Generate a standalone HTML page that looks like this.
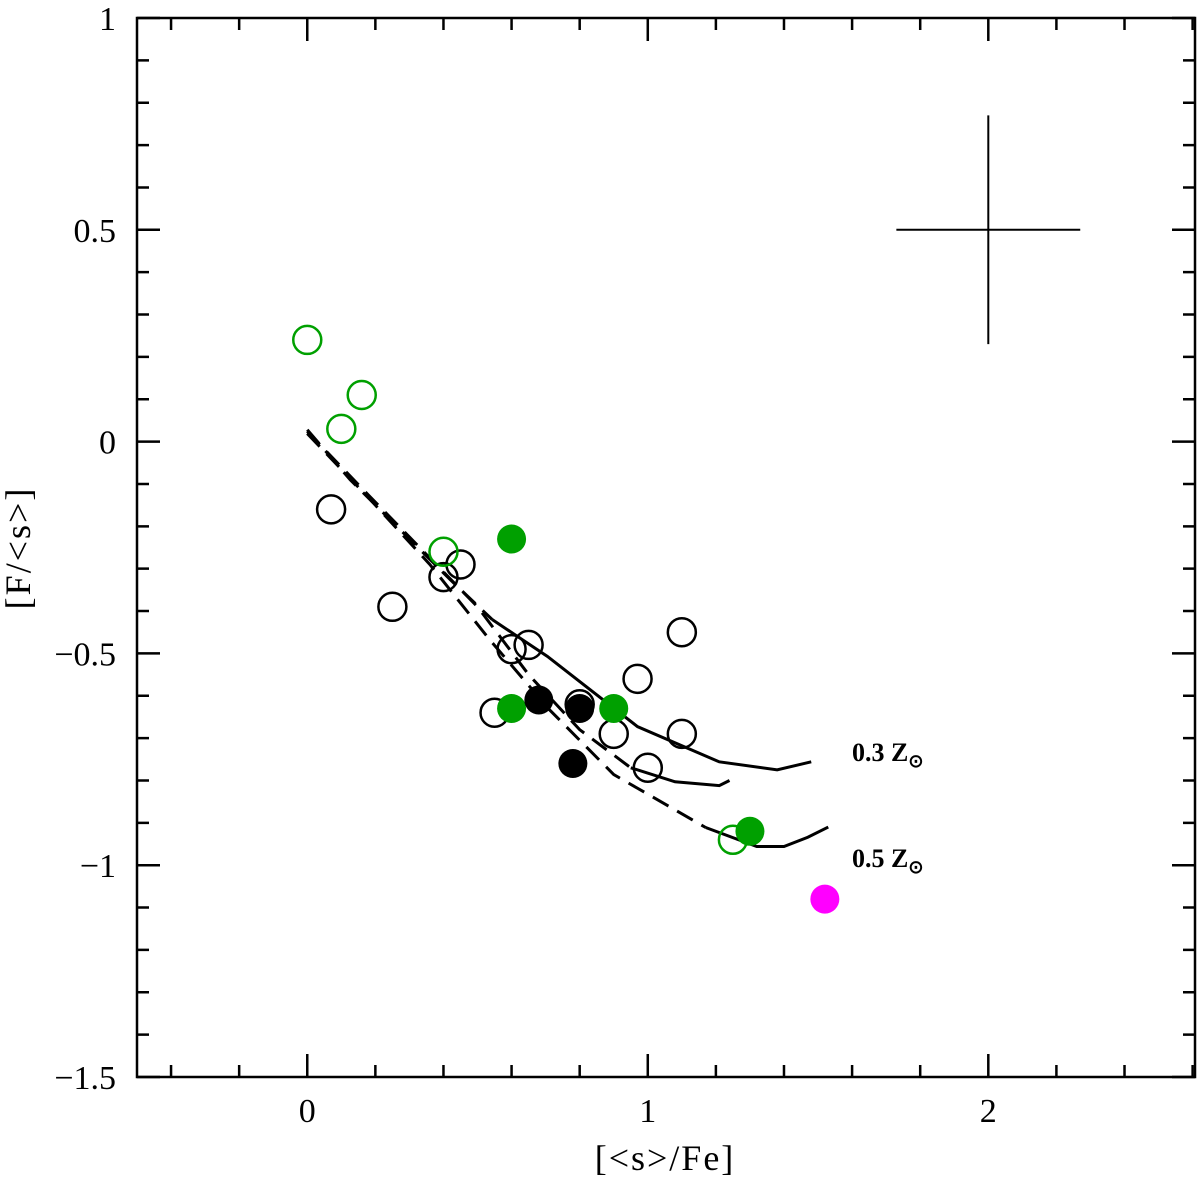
<!DOCTYPE html>
<html><head><meta charset="utf-8"><style>
body{margin:0;background:#fff}
svg text{font-family:"Liberation Serif",serif;fill:#000}
</style></head><body>
<svg id="chart" width="1200" height="1185" viewBox="0 0 1200 1185" xmlns="http://www.w3.org/2000/svg">
<g id="axes"></g>
<g id="models"></g>
<g id="points"></g>
<text x="665" y="1170" font-size="36" text-anchor="middle" letter-spacing="2">[&lt;s&gt;/Fe]</text>
<text transform="translate(30,548) rotate(-90)" font-size="36" text-anchor="middle" letter-spacing="2">[F/&lt;s&gt;]</text>
<text x="852" y="761" font-size="26" font-weight="bold">0.3 Z<tspan font-size="18" dy="6">⊙</tspan></text>
<text x="852" y="867" font-size="26" font-weight="bold">0.5 Z<tspan font-size="18" dy="6">⊙</tspan></text>
</svg>
<script>
const xTicks=[0,1,2];
const yTicks=[1,0.5,0,-0.5,-1,-1.5];
const yTickLabels=["1","0.5","0","\u22120.5","\u22121","\u22121.5"];
const openBlackX=[0.07,0.25,0.40,0.45,0.55,0.60,0.65,0.80,0.90,0.97,1.00,1.10,1.10];
const openBlackY=[-0.16,-0.39,-0.32,-0.29,-0.64,-0.49,-0.48,-0.62,-0.69,-0.56,-0.77,-0.45,-0.69];
const openGreenX=[0,0.16,0.10,0.40,1.25];
const openGreenY=[0.24,0.11,0.03,-0.26,-0.94];
const fillGreenX=[0.60,0.60,0.90,1.30];
const fillGreenY=[-0.23,-0.63,-0.63,-0.92];
const fillBlackX=[0.68,0.80,0.78];
const fillBlackY=[-0.61,-0.63,-0.76];
const magentaX=[1.52];
const magentaY=[-1.08];
const upDashX=[0,0.126,0.273,0.42,0.543];
const upDashY=[0.028,-0.09,-0.208,-0.326,-0.42];
const upSolidX=[0.543,0.705,0.97,1.21,1.38,1.48];
const upSolidY=[-0.42,-0.507,-0.673,-0.756,-0.775,-0.756];
const midDashX=[0,0.16,0.33,0.5,0.65,0.8,0.95];
const midDashY=[0.024,-0.11,-0.25,-0.39,-0.55,-0.68,-0.77];
const midSolidX=[0.95,1.08,1.21,1.24];
const midSolidY=[-0.77,-0.803,-0.812,-0.80];
const lowDashX=[0,0.185,0.36,0.535,0.71,0.9,1.17];
const lowDashY=[0.019,-0.137,-0.29,-0.467,-0.632,-0.786,-0.911];
const lowSolidX=[1.17,1.32,1.4,1.47,1.53];
const lowSolidY=[-0.911,-0.956,-0.956,-0.934,-0.91];
const errX=[2.0], errY=[0.5], errDX=[0.27], errDY=[0.27];

const X0=137,X1=1195,Y0=18,Y1=1077;
const xMin=-0.5,xMax=2.607,yMin=-1.5,yMax=1;
const sx=v=>X0+(v-xMin)/(xMax-xMin)*(X1-X0);
const sy=v=>Y1-(v-yMin)/(yMax-yMin)*(Y1-Y0);
const NS="http://www.w3.org/2000/svg";
function mk(tag,parent,attrs){const e=document.createElementNS(NS,tag);for(const k in attrs)e.setAttribute(k,attrs[k]);parent.appendChild(e);return e;}
const axes=document.getElementById('axes');
let fr=mk('rect',axes,{x:X0,y:Y0,width:X1-X0,height:Y1-Y0,fill:'none',stroke:'#000','stroke-width':2.5});


for(let v=-0.4;v<=2.6001;v+=0.2){const x=sx(v);const major=Math.abs(v-Math.round(v))<1e-6;const L=major?23:12;
 let t=mk('path',axes,{d:`M${x},${Y1}v${-L}M${x},${Y0}v${L}`,stroke:'#000','stroke-width':2.5});
 
 }
for(let i=-15;i<=10;i++){const v=i/10;const y=sy(v);const major=i%5===0;const L=major?23:12;
 let t=mk('path',axes,{d:`M${X0},${y}h${L}M${X1},${y}h${-L}`,stroke:'#000','stroke-width':2.5});
 
 }
xTicks.forEach(v=>{let t=mk('text',axes,{x:sx(v),y:1122,'font-size':34,'text-anchor':'middle'});t.textContent=String(v);
 
 });
yTicks.forEach((v,i)=>{let t=mk('text',axes,{x:116,y:sy(v)+12,'font-size':34,'text-anchor':'end'});t.textContent=yTickLabels[i];
 
 });
let ec=mk('path',axes,{d:`M${sx(errX[0]-errDX[0])},${sy(errY[0])}H${sx(errX[0]+errDX[0])}M${sx(errX[0])},${sy(errY[0]+errDY[0])}V${sy(errY[0]-errDY[0])}`,stroke:'#000','stroke-width':2});


const models=document.getElementById('models');
function line(xs,ys,dash,name){const d=xs.map((v,i)=>(i?'L':'M')+sx(v)+','+sy(ys[i])).join('');
 let p=mk('path',models,{d:d,fill:'none',stroke:'#000','stroke-width':3});
 if(dash)p.setAttribute('stroke-dasharray','18,10');
 
 }
line(upDashX,upDashY,true,'model-upper-dashed');
line(upSolidX,upSolidY,false,'model-upper-solid');
line(midDashX,midDashY,true,'model-middle-dashed');
line(midSolidX,midSolidY,false,'model-middle-solid');
line(lowDashX,lowDashY,true,'model-lower-dashed');
line(lowSolidX,lowSolidY,false,'model-lower-solid');
const pts=document.getElementById('points');
function dots(xs,ys,fill,stroke,name){xs.forEach((v,i)=>{let c=mk('circle',pts,{cx:sx(v),cy:sy(ys[i]),r:fill==='none'?14:14.5,fill:fill,stroke:stroke,'stroke-width':fill==='none'?2.5:0});
 
 });}
dots(openBlackX,openBlackY,'none','#000','open-black-point');
dots(openGreenX,openGreenY,'none','#00a000','open-green-point');
dots(fillGreenX,fillGreenY,'#00a000','none','filled-green-point');
dots(fillBlackX,fillBlackY,'#000','none','filled-black-point');
dots(magentaX,magentaY,'#ff00ff','none','magenta-point');
</script>
</body></html>
